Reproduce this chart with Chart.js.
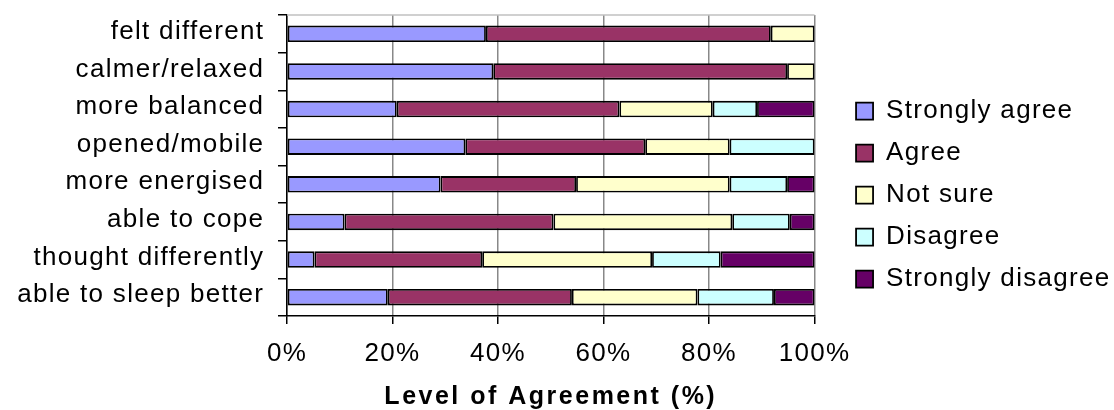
<!DOCTYPE html>
<html>
<head>
<meta charset="utf-8">
<script src="https://cdn.jsdelivr.net/npm/chart.js@4.4.1/dist/chart.umd.min.js"></script>
<style>
  html, body { margin: 0; padding: 0; background: #fff; }
  #wrap { width: 1114px; height: 410px; position: relative; }
</style>
</head>
<body>
<div id="wrap"><canvas id="c"></canvas></div>
<script>
const categories = ['felt different', 'calmer/relaxed', 'more balanced', 'opened/mobile', 'more energised', 'able to cope', 'thought differently', 'able to sleep better'];
const seriesNames = ['Strongly agree', 'Agree', 'Not sure', 'Disagree', 'Strongly disagree'];
const stronglyAgree    = [37.7, 39.1, 20.8, 33.8, 29.1, 10.9,  5.2, 19.1];
const agree            = [54.0, 55.7, 42.2, 34.1, 25.7, 39.6, 31.8, 34.9];
const notSure          = [ 8.3,  5.2, 17.7, 16.0, 29.1, 33.9, 32.2, 23.8];
const disagree         = [ 0,    0,    8.4, 16.1, 10.9, 10.9, 13.0, 14.5];
const stronglyDisagree = [ 0,    0,   10.9,  0,    5.2,  4.7, 17.8,  7.7];
const xTickLabels = ['0%', '20%', '40%', '60%', '80%', '100%'];
const axisTitle = 'Level of Agreement (%)';

const seriesValues = [stronglyAgree, agree, notSure, disagree, stronglyDisagree];
const seriesColors = ['#9999FF', '#993366', '#FFFFCC', '#CCFFFF', '#660066'];

const FAMILY = '"Liberation Sans", Arial, sans-serif';

const canvas = document.getElementById('c');
const ctx = canvas.getContext('2d');
// slightly wider letter spacing, as in the reference rendering
function spacingFor(c) { return /bold|700/.test(c.font) ? '2.5px' : '1.3px'; }
const origFill = ctx.fillText.bind(ctx);
const origMeasure = ctx.measureText.bind(ctx);
ctx.fillText = function () {
  const prev = ctx.letterSpacing;
  ctx.letterSpacing = spacingFor(ctx);
  origFill.apply(null, arguments);
  ctx.letterSpacing = prev;
};
ctx.measureText = function (t) {
  const prev = ctx.letterSpacing;
  ctx.letterSpacing = spacingFor(ctx);
  const m = origMeasure(t);
  ctx.letterSpacing = prev;
  return m;
};

const topBorder = {
  id: 'topBorder',
  beforeDatasetsDraw(chart) {
    const a = chart.chartArea;
    const c = chart.ctx;
    c.save();
    c.strokeStyle = '#c0c0c0';
    c.lineWidth = 1.5;
    c.beginPath();
    c.moveTo(a.left, a.top);
    c.lineTo(a.right, a.top);
    c.stroke();
    c.restore();
  }
};

new Chart(ctx, {
  type: 'bar',
  data: {
    labels: categories,
    datasets: seriesNames.map((name, i) => ({
      label: name,
      data: seriesValues[i],
      backgroundColor: seriesColors[i],
      borderColor: '#000',
      borderWidth: 1.8,
      borderSkipped: false,
      barPercentage: 0.436,
      categoryPercentage: 1.0
    }))
  },
  options: {
    indexAxis: 'y',
    responsive: true,
    maintainAspectRatio: false,
    animation: false,
    layout: { padding: { top: 15, right: -6.5, bottom: 0, left: 0 } },
    scales: {
      x: {
        type: 'linear',
        stacked: true,
        min: 0,
        max: 100,
        ticks: {
          stepSize: 20,
          color: '#000',
          padding: 14,
          font: { family: FAMILY, size: 26 },
          callback: (v, i) => xTickLabels[i]
        },
        grid: { color: '#888', lineWidth: 1.5, tickColor: '#000', tickLength: 8, drawTicks: true },
        border: { display: true, color: '#000', width: 1.5 },
        title: {
          display: true,
          text: axisTitle,
          color: '#000',
          font: { family: FAMILY, size: 25, weight: 'bold', lineHeight: 1 },
          padding: { top: 1.8, bottom: 0 }
        }
      },
      y: {
        stacked: true,
        ticks: {
          color: '#000',
          padding: 13.7,
          labelOffset: -2,
          font: { family: FAMILY, size: 26 }
        },
        grid: { offset: true, drawOnChartArea: false, drawTicks: true, tickLength: 9, color: '#000', lineWidth: 1.5 },
        border: { display: true, color: '#000', width: 1.5 },
        afterFit(s) { s.width = 287; s.paddingTop = 0; s.paddingBottom = 0; }
      },
      y2: {
        type: 'linear',
        position: 'right',
        display: true,
        grid: { display: false },
        ticks: { display: false },
        border: { display: false },
        afterFit(s) { s.width = 25.5; }
      }
    },
    plugins: {
      legend: {
        position: 'right',
        align: 'start',
        maxWidth: 400,
        title: { display: true, text: '', padding: { top: 66, bottom: 0 }, font: { size: 1 } },
        labels: {
          boxWidth: 17,
          boxHeight: 17,
          padding: 16,
          color: '#000',
          font: { family: FAMILY, size: 26 }
        }
      },
      tooltip: { enabled: false }
    }
  },
  plugins: [topBorder]
});
</script>
</body>
</html>
